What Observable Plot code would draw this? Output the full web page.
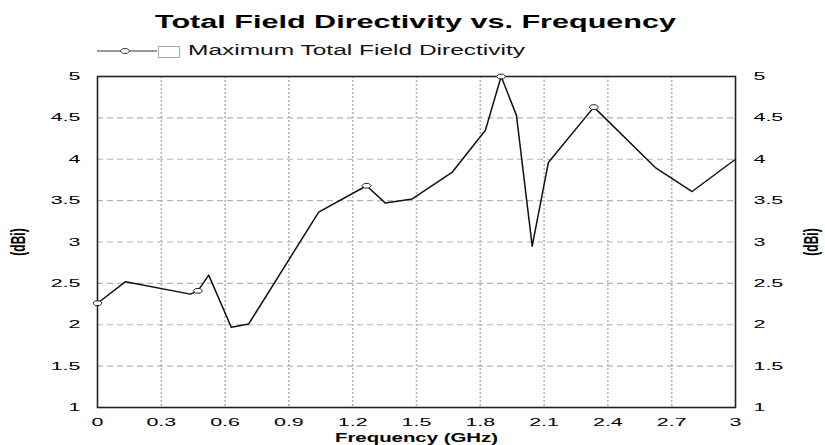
<!DOCTYPE html>
<html>
<head>
<meta charset="utf-8">
<script src="https://cdn.jsdelivr.net/npm/d3@7"></script>
<script src="https://cdn.jsdelivr.net/npm/@observablehq/plot@0.6"></script>
<style>
  html, body { margin: 0; padding: 0; background: #fff; }
  svg { display: block; }
  #chart { width: 825px; }
</style>
</head>
<body>
<div id="chart">
  <svg id="head" width="825" height="64" xmlns="http://www.w3.org/2000/svg">
    <text x="155" y="28" textLength="521" lengthAdjust="spacingAndGlyphs"
      font-family="Liberation Sans, Arial, sans-serif" font-weight="bold" font-size="18" fill="#000">Total Field Directivity vs. Frequency</text>
    <line x1="97" y1="51" x2="157" y2="51" stroke="#333" stroke-width="1.2"/>
    <path d="M120.3,51L122.6,48.7L127.4,48.7L129.7,51L127.4,53.3L122.6,53.3Z" fill="#fff" stroke="#333" stroke-width="1"/>
    <rect x="158.5" y="46.5" width="21" height="11" fill="#fff" stroke="#aaa" stroke-width="1"/>
    <text x="188" y="55" textLength="337" lengthAdjust="spacingAndGlyphs"
      font-family="Liberation Sans, Arial, sans-serif" font-size="14" fill="#111">Maximum Total Field Directivity</text>
  </svg>
</div>
<script>
// ---- data ----
const frequency = [0, 0.132, 0.437, 0.472, 0.523, 0.629, 0.711, 1.04, 1.265, 1.354, 1.48, 1.667, 1.824, 1.898, 1.97, 2.044, 2.12, 2.334, 2.623, 2.796, 3.0];
const directivity = [2.26, 2.52, 2.37, 2.41, 2.60, 1.97, 2.01, 3.36, 3.68, 3.47, 3.52, 3.84, 4.35, 5.0, 4.53, 2.95, 3.96, 4.63, 3.90, 3.61, 4.0];
const markerFrequency = [0, 0.472, 1.265, 1.898, 2.334];
const markerDirectivity = [2.26, 2.41, 3.68, 5.0, 4.63];
const xTicks = [0, 0.3, 0.6, 0.9, 1.2, 1.5, 1.8, 2.1, 2.4, 2.7, 3];
const xTickLabels = ["0", "0.3", "0.6", "0.9", "1.2", "1.5", "1.8", "2.1", "2.4", "2.7", "3"];
const yTicks = [1, 1.5, 2, 2.5, 3, 3.5, 4, 4.5, 5];
const yTickLabels = ["1", "1.5", "2", "2.5", "3", "3.5", "4", "4.5", "5"];
const yGrid = [1.5, 2, 2.5, 3, 3.5, 4, 4.5];
const xGrid = [0.3, 0.6, 0.9, 1.2, 1.5, 1.8, 2.1, 2.4, 2.7];

const series = frequency.map((f, i) => ({f, d: directivity[i]}));
const markers = markerFrequency.map((f, i) => ({f, d: markerDirectivity[i]}));
const xFmt = d => xTickLabels[xTicks.indexOf(d)];
const yFmt = d => yTickLabels[yTicks.indexOf(d)];

const flatHex = {
  draw(context, size) {
    const r = Math.sqrt(size / Math.PI);
    const w = r * 1.4, h = r * 0.7;
    context.moveTo(-w, 0);
    context.lineTo(-w / 2, -h);
    context.lineTo(w / 2, -h);
    context.lineTo(w, 0);
    context.lineTo(w / 2, h);
    context.lineTo(-w / 2, h);
    context.closePath();
  }
};

const plot = Plot.plot({
  width: 825,
  height: 381,
  marginTop: 12,
  marginBottom: 38,
  marginLeft: 97,
  marginRight: 90,
  style: {fontFamily: "Liberation Sans, Arial, sans-serif", fontSize: "11px", color: "#000", background: "#fff"},
  x: {domain: [0, 3]},
  y: {domain: [1, 5]},
  marks: [
    Plot.gridY(yGrid, {stroke: "#b4b4b4", strokeOpacity: 1, strokeDasharray: "6,4", strokeWidth: 1.2}),
    Plot.gridX(xGrid, {stroke: "#b4b4b4", strokeOpacity: 1, strokeDasharray: "2,2", strokeWidth: 1.6}),
    Plot.frame({stroke: "#222", strokeWidth: 1.6}),
    Plot.line(series, {x: "f", y: "d", stroke: "#111", strokeWidth: 1.5}),
    Plot.dot(markers, {x: "f", y: "d", symbol: flatHex, r: 3.3, stroke: "#222", fill: "#fff", strokeWidth: 1}),
    Plot.axisY(yTicks, {anchor: "left", tickSize: 0, tickPadding: 17, tickFormat: yFmt, label: "(dBi)", labelAnchor: "center", labelOffset: 87, labelArrow: "none"}),
    Plot.axisY(yTicks, {anchor: "right", tickSize: 0, tickPadding: 18, tickFormat: yFmt, label: "(dBi)", labelAnchor: "center", labelOffset: 82, labelArrow: "none"}),
    Plot.axisX(xTicks, {anchor: "bottom", tickSize: 0, tickPadding: 11, tickFormat: xFmt, label: "Frequency (GHz)", labelAnchor: "center", labelOffset: 34, labelArrow: "none"})
  ]
});

document.getElementById("chart").appendChild(plot);

// horizontally stretched text, as in the reference rendering
const S = 1.95;
plot.querySelectorAll("g[aria-label*='axis'] text").forEach(t => {
  const lab = t.parentNode.getAttribute("aria-label") || "";
  const isLabel = lab.endsWith("axis label");
  const s = isLabel ? 1.7 : S;
  if (isLabel) {
    t.style.fontWeight = "bold";
    t.style.fontSize = "12px";
  }
  const tr = t.getAttribute("transform") || "";
  if (tr.includes("rotate")) t.setAttribute("transform", tr.replace("rotate", `scale(${s},1) rotate`));
  else t.setAttribute("transform", tr + ` scale(${s},1)`);
});
</script>
</body>
</html>
